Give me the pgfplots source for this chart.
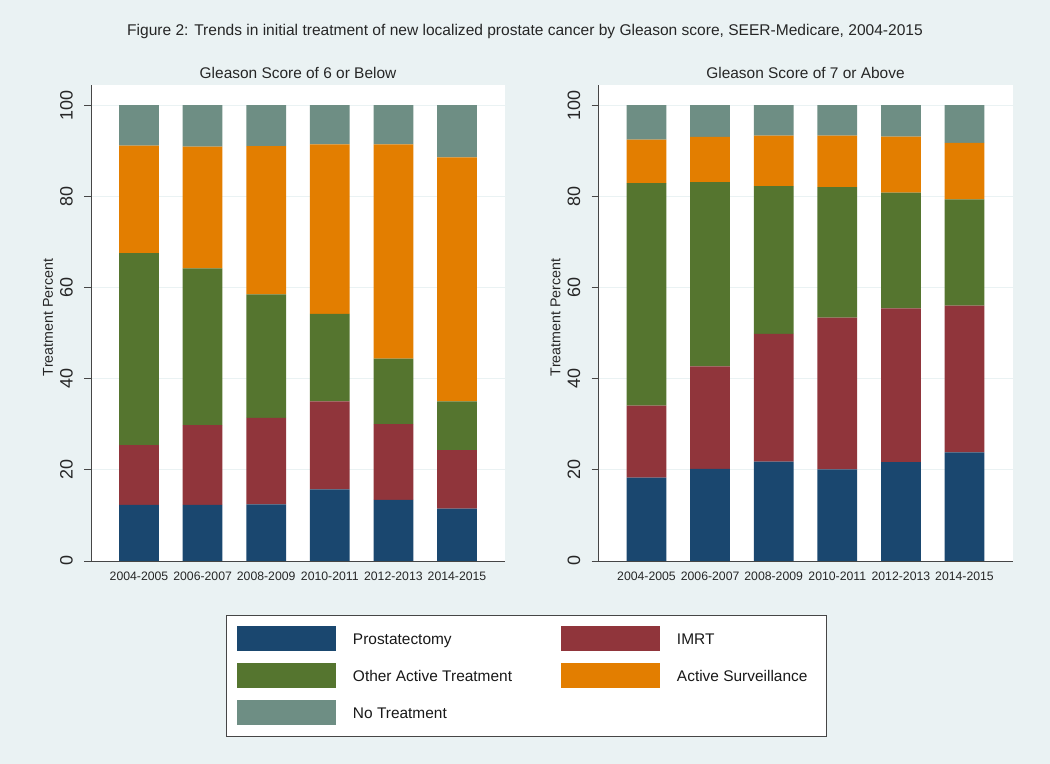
\documentclass[border=0pt]{standalone}
\usepackage{fontspec}
\setmainfont{Liberation Sans}
\usepackage{pgfplots}
\usepackage{pgfplotstable}
\pgfplotsset{compat=1.18}
\definecolor{bgc}{RGB}{234,242,243}
\definecolor{cnavy}{RGB}{26,71,111}
\definecolor{cmaroon}{RGB}{144,53,59}
\definecolor{cgreen}{RGB}{85,117,47}
\definecolor{corange}{RGB}{227,126,0}
\definecolor{cteal}{RGB}{110,142,132}
\definecolor{axc}{RGB}{70,70,70}

\pgfplotstableread{
x pro imrt oth as none
1 12.3 13.1 42.1 23.6 8.9
2 12.3 17.5 34.4 26.7 9.1
3 12.4 19.0 27.1 32.5 9.0
4 15.7 19.3 19.2 37.2 8.6
5 13.4 16.6 14.4 47.0 8.6
6 11.5 12.8 10.7 53.5 11.5
}\lowtab

\pgfplotstableread{
x pro imrt oth as none
1 18.3 15.8 48.8 9.5 7.6
2 20.2 22.5 40.4 9.9 7.0
3 21.8 28.0 32.4 11.1 6.7
4 20.1 33.3 28.6 11.3 6.7
5 21.7 33.7 25.4 12.3 6.9
6 23.8 32.2 23.3 12.4 8.3
}\hightab

\pgfplotsset{
  myswatch/.style={legend image code/.code={%
      \fill[##1] (0bp,-11.4bp) rectangle (99bp,13.6bp);
      \path (0bp,0bp) (116bp,0bp);}},
  gleason/.style={
    scale only axis, width=414bp, height=476bp,
    xmin=0.245, xmax=6.755, ymin=0, ymax=104.4,
    ybar stacked, bar width=0.625,
    axis lines*=left,
    axis line style={axc, line width=0.9bp},
    axis background/.style={fill=white},
    xtick={1,...,6},
    xticklabels={2004-2005,2006-2007,2008-2009,2010-2011,2012-2013,2014-2015},
    xtick style={draw=none},
    xticklabel style={font=\fontsize{12.3}{14}\selectfont, text=black!85},
    ytick={0,20,...,100},
    ymajorgrids, grid style={bgc, line width=0.9bp},
    tick align=outside, major tick length=7bp,
    ytick style={axc, line width=0.9bp},
    yticklabel style={rotate=90, anchor=south, inner ysep=11bp, font=\fontsize{18}{18}\selectfont, text=black!85},
    /pgf/number format/assume math mode=true,
    ylabel={Treatment Percent},
    ylabel style={font=\fontsize{14.3}{16}\selectfont, text=black!85,
      at={(axis description cs:-0.104,0.512)}, anchor=center},
    title style={font=\fontsize{15.5}{17}\selectfont, text=black!85, at={(0.5,1)}, anchor=south, inner sep=3bp, yshift=-3bp},
  }
}

\begin{document}
\begin{tikzpicture}
\fill[bgc] (0,0) rectangle (1050bp,764bp);
\useasboundingbox (0,0) rectangle (1050bp,764bp);
\node[font=\fontsize{15.6}{18}\selectfont, text=black!85] at (525bp,733bp)
  {Figure 2: Trends in initial treatment of new localized prostate cancer by Gleason score, SEER-Medicare, 2004-2015};

\begin{axis}[gleason, at={(91bp,203bp)}, anchor=south west,
  title={Gleason Score of 6 or Below},
  legend columns=2,
  legend cell align=left,
  legend style={at={(1.0507,-0.1134)}, anchor=north, draw=axc, line width=0.9bp,
    fill=white, inner xsep=11bp, inner ysep=11bp, row sep=12bp, column sep=0pt,
    nodes={inner sep=0pt, font=\fontsize{15.5}{17}\selectfont, text=black!90}},
]
\addplot[fill=cnavy, draw=none, myswatch] table[x=x, y=pro]{\lowtab};
\addplot[fill=cmaroon, draw=none, myswatch] table[x=x, y=imrt]{\lowtab};
\addplot[fill=cgreen, draw=none, myswatch] table[x=x, y=oth]{\lowtab};
\addplot[fill=corange, draw=none, myswatch] table[x=x, y=as]{\lowtab};
\addplot[fill=cteal, draw=none, myswatch] table[x=x, y=none]{\lowtab};
\legend{\makebox[208bp][l]{Prostatectomy}, \makebox[138bp][l]{IMRT}, \makebox[208bp][l]{Other Active Treatment}, \makebox[138bp][l]{Active Surveillance}, \makebox[208bp][l]{No Treatment}}
\end{axis}

\begin{axis}[gleason, at={(598.5bp,203bp)}, anchor=south west,
  title={Gleason Score of 7 or Above}]
\addplot[fill=cnavy, draw=none] table[x=x, y=pro]{\hightab};
\addplot[fill=cmaroon, draw=none] table[x=x, y=imrt]{\hightab};
\addplot[fill=cgreen, draw=none] table[x=x, y=oth]{\hightab};
\addplot[fill=corange, draw=none] table[x=x, y=as]{\hightab};
\addplot[fill=cteal, draw=none] table[x=x, y=none]{\hightab};
\end{axis}
\end{tikzpicture}
\end{document}
